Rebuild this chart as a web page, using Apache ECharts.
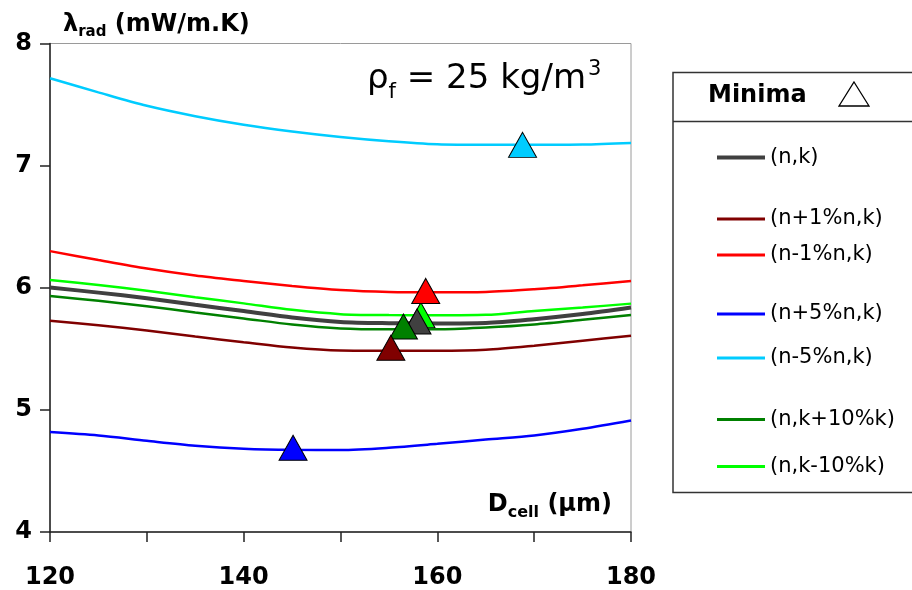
<!DOCTYPE html>
<html><head><meta charset="utf-8">
<script src="https://cdn.jsdelivr.net/npm/echarts@6/dist/echarts.min.js"></script>
<style>html,body{margin:0;padding:0;background:#fff}#c{width:912px;height:590px}</style>
</head><body><div id="c"></div>
<script>
// ---- data ----
const dcell = [120,125,130,135,140,145,150,155,160,165,170,175,180];
const s_nk      = [6.002,5.960,5.914,5.860,5.810,5.757,5.720,5.710,5.708,5.712,5.743,5.785,5.838];
const s_np1     = [5.729,5.692,5.650,5.600,5.554,5.510,5.486,5.484,5.484,5.492,5.525,5.566,5.607];
const s_nm1     = [6.300,6.227,6.157,6.100,6.056,6.015,5.982,5.966,5.963,5.966,5.988,6.020,6.055];
const s_np5     = [4.818,4.790,4.747,4.707,4.682,4.673,4.672,4.690,4.722,4.757,4.790,4.845,4.913];
const s_nm5     = [7.716,7.600,7.490,7.405,7.335,7.280,7.235,7.200,7.175,7.170,7.170,7.172,7.185];
const s_kp10    = [5.933,5.893,5.849,5.797,5.749,5.699,5.667,5.660,5.660,5.675,5.700,5.737,5.776];
const s_km10    = [6.064,6.022,5.976,5.922,5.872,5.819,5.784,5.776,5.774,5.778,5.810,5.838,5.870];
const seriesNames = ['(n,k)','(n+1%n,k)','(n-1%n,k)','(n+5%n,k)','(n-5%n,k)','(n,k+10%k)','(n,k-10%k)'];
const seriesValues = [s_nk,s_np1,s_nm1,s_np5,s_nm5,s_kp10,s_km10];
// minima (D, lambda) per series, same order as seriesNames
const minimaD   = [157.9,155.2,158.8,145.1,168.8,156.5,158.3];
const minimaVal = [5.724,5.508,5.974,4.690,7.170,5.682,5.776];
const xTicks = [120,140,160,180];
const yTicks = [4,5,6,7,8];
const legendGroups = [[0],[1,2],[3,4],[5,6]];

// ---- styles ----
const colors = ['#404040','#800000','#ff0000','#0000ff','#00ccff','#008000','#00ff00'];
const widths = [4,2.5,2.5,2.5,2.5,2.5,2.5];
const markerOrder = [6,0,5,1,2,3,4]; // drawing order (later on top)
const groupTops = [141.5,203,298,403.5];
const groupGaps = [10,14,22,25];
const groupIconH = [4,3,3,3];
const F = 'DejaVu Sans';

const series = seriesNames.map((n,i)=>({
  name:n, type:'line', symbol:'none', smooth:0.3,
  data: dcell.map((d,j)=>[d,seriesValues[i][j]]),
  lineStyle:{color:colors[i],width:widths[i]}, itemStyle:{color:colors[i]},
  z:2
}));
series.push({
  name:'Minima', type:'scatter', symbol:'triangle', symbolSize:[28,25], z:5,
  data: markerOrder.map(i=>({value:[minimaD[i],minimaVal[i]],
    itemStyle:{color:colors[i],borderColor:'#000',borderWidth:1,opacity:1}}))
});

const legends = legendGroups.map((g,k)=>({
  orient:'vertical', left:712, top:groupTops[k], itemGap:groupGaps[k],
  icon:'rect', itemWidth:48, itemHeight:groupIconH[k],
  data:g.map(i=>seriesNames[i]), selectedMode:false,
  textStyle:{fontFamily:F,fontSize:21,color:'#000',lineHeight:22}
}));

const chart = echarts.init(document.getElementById('c'));
chart.setOption({
  animation:false,
  backgroundColor:'#fff',
  title:{
    text:'{a|ρ}{b|f}{a| = 25 kg/m}{c|3}', left:362, top:54,
    textStyle:{rich:{
      a:{fontFamily:F,fontWeight:'normal',fontSize:34,color:'#000',lineHeight:40},
      b:{fontFamily:F,fontWeight:'normal',fontSize:21,color:'#000',lineHeight:20,verticalAlign:'bottom',padding:[0,0,-4,0]},
      c:{fontFamily:F,fontWeight:'normal',fontSize:21,color:'#000',lineHeight:20,verticalAlign:'top',padding:[0,0,0,2]}
    }}
  },
  grid:{left:50,right:281,top:43.5,bottom:56.5,show:true,borderColor:'#9a9a9a',borderWidth:1},
  xAxis:{
    type:'value', min:120, max:180, interval:10,
    name:'{b|D}{s|cell}{b| (µm)}', nameLocation:'end', nameGap:-19,
    nameTextStyle:{align:'right',verticalAlign:'bottom',padding:[0,0,14,0],
      rich:{b:{fontFamily:F,fontWeight:'bold',fontSize:24,color:'#000',lineHeight:26},
            s:{fontFamily:F,fontWeight:'bold',fontSize:16,color:'#000',lineHeight:16,verticalAlign:'bottom',padding:[0,0,-3,0]}}},
    axisLine:{onZero:false,lineStyle:{color:'#222',width:1.5}},
    axisTick:{length:10,lineStyle:{color:'#222',width:1.5}},
    splitLine:{show:false},
    axisLabel:{margin:34,fontFamily:F,fontWeight:'bold',fontSize:24,color:'#000',
      formatter:v=>xTicks.includes(v)?String(v):''}
  },
  yAxis:{
    type:'value', min:4, max:8, interval:1,
    name:'{l|λ}{s|rad}{m| (mW/m.K)}', nameLocation:'end', nameGap:6,
    nameTextStyle:{align:'left',verticalAlign:'bottom',padding:[0,0,0,13],
      rich:{l:{fontFamily:F,fontWeight:'bold',fontSize:24,color:'#000',lineHeight:26},
            s:{fontFamily:F,fontWeight:'bold',fontSize:15,color:'#000',lineHeight:15,verticalAlign:'bottom',padding:[0,0,-2,0]},
            m:{fontFamily:F,fontWeight:'bold',fontSize:24,color:'#000',lineHeight:26}}},
    axisLine:{show:true,lineStyle:{color:'#222',width:1.5}},
    axisTick:{show:true,length:10,lineStyle:{color:'#222',width:1.5}},
    splitLine:{show:false},
    axisLabel:{margin:18,fontFamily:F,fontWeight:'bold',fontSize:24,color:'#000',
      formatter:v=>yTicks.includes(v)?String(v):''}
  },
  legend:legends,
  graphic:[
    {type:'rect',shape:{x:673,y:72.5,width:260,height:420},style:{fill:'none',stroke:'#333',lineWidth:1.5},z:0},
    {type:'line',shape:{x1:673,y1:121.5,x2:912,y2:121.5},style:{stroke:'#333',lineWidth:1.5}},
    {type:'text',x:708,y:96,style:{text:'Minima',fontFamily:F,fontWeight:'bold',fontSize:24,fill:'#000',verticalAlign:'middle'}},
    {type:'polygon',shape:{points:[[854,82],[869,106],[839,106]]},style:{fill:'#fff',stroke:'#000',lineWidth:1.3}}
  ],
  series:series
});
</script></body></html>
